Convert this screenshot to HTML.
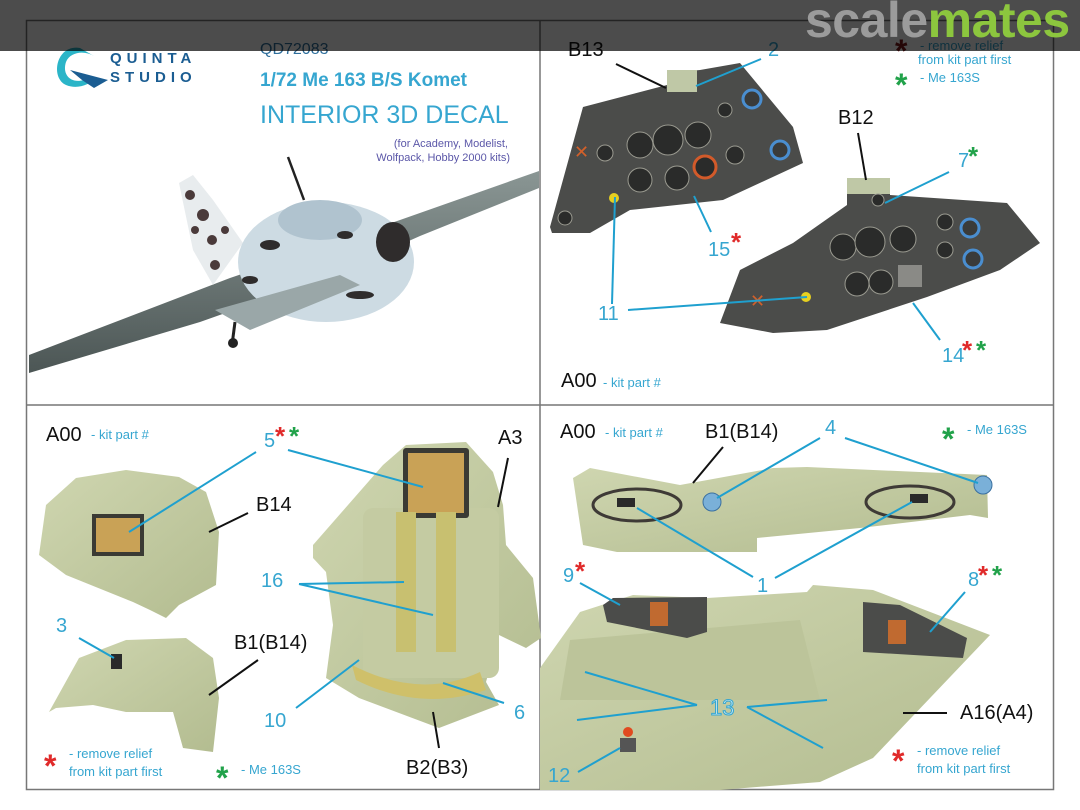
<!DOCTYPE html>
<html><head><meta charset="utf-8"><style>
html,body{margin:0;padding:0;background:#fff;}
svg{display:block;font-family:"Liberation Sans",Arial,sans-serif;}
</style></head><body>
<svg width="1080" height="810" viewBox="0 0 1080 810" xmlns="http://www.w3.org/2000/svg">
<defs>
<linearGradient id="res" x1="0" y1="0" x2="1" y2="1"><stop offset="0" stop-color="#cfd6b0"/><stop offset="1" stop-color="#b3bc90"/></linearGradient>
<linearGradient id="wing" x1="0" y1="0" x2="0" y2="1"><stop offset="0" stop-color="#8a9694"/><stop offset="1" stop-color="#4c5655"/></linearGradient>
</defs>
<rect width="1080" height="810" fill="#fff"/>
<rect x="26.5" y="20.5" width="1027" height="769" fill="none" stroke="#777" stroke-width="1.5"/>
<line x1="540" y1="20" x2="540" y2="790" stroke="#777" stroke-width="1.5"/>
<line x1="26" y1="405" x2="1054" y2="405" stroke="#777" stroke-width="1.5"/>

<!-- TOP LEFT -->
<path d="M80 48 C56 44 50 78 66 85 C78 90 90 84 96 78 L84 80 C70 84 62 74 66 62 C70 52 84 50 94 56 Z" fill="#2bb5c8"/>
<path d="M70 70 L108 80 L94 88 L82 80 Z" fill="#1b5d92"/>
<text x="110" y="63" font-size="15" font-weight="bold" fill="#1b5d92" letter-spacing="5">QUINTA</text>
<text x="110" y="82" font-size="15" font-weight="bold" fill="#1b5d92" letter-spacing="5">STUDIO</text>
<text x="260" y="54" font-size="16" fill="#2f6f9c">QD72083</text>
<text x="260" y="86" font-size="19" font-weight="bold" fill="#36a6d0">1/72 Me 163 B/S Komet</text>
<text x="260" y="123" font-size="25" fill="#36a6d0">INTERIOR 3D DECAL</text>
<text x="508" y="147" font-size="11" fill="#5b57a8" text-anchor="end">(for Academy, Modelist,</text>
<text x="510" y="161" font-size="11" fill="#5b57a8" text-anchor="end">Wolfpack, Hobby 2000 kits)</text>
<polygon points="29,355 230,278 400,220 539,171 539,188 420,236 330,276 200,322 29,373" fill="url(#wing)"/>
<polygon points="179,183 193,175 213,200 243,243 213,285 193,250" fill="#e8ecee"/>
<g fill="#4a3a3a"><circle cx="190" cy="195" r="5"/><circle cx="203" cy="215" r="6"/><circle cx="212" cy="240" r="5"/><circle cx="225" cy="230" r="4"/><circle cx="195" cy="230" r="4"/><circle cx="215" cy="265" r="5"/></g>
<line x1="288" y1="157" x2="304" y2="200" stroke="#222" stroke-width="2.5"/>
<ellipse cx="326" cy="262" rx="88" ry="60" fill="#cddbe3"/>
<ellipse cx="320" cy="220" rx="42" ry="20" fill="#b0c3cf"/>
<g fill="#2f2c2c"><ellipse cx="393" cy="242" rx="17" ry="20"/><ellipse cx="345" cy="235" rx="8" ry="4"/><ellipse cx="270" cy="245" rx="10" ry="5"/><ellipse cx="360" cy="295" rx="14" ry="4"/><ellipse cx="250" cy="280" rx="8" ry="4"/></g>
<polygon points="215,310 340,275 360,285 250,330" fill="#9aa7a8"/>
<line x1="235" y1="322" x2="232" y2="345" stroke="#222" stroke-width="3"/><circle cx="233" cy="343" r="5" fill="#222"/>

<!-- TOP RIGHT -->
<polygon points="550,227 583,107 667,85 667,73 700,70 740,63 793,127 803,163 723,200 630,210 590,233 552,233" fill="#4b4c4a"/>
<rect x="667" y="70" width="30" height="22" fill="#bfc8a6"/>
<g fill="#2a2b2a" stroke="#9a9a90" stroke-width="1">
<circle cx="640" cy="145" r="13"/><circle cx="668" cy="140" r="15"/><circle cx="698" cy="135" r="13"/><circle cx="640" cy="180" r="12"/><circle cx="677" cy="178" r="12"/><circle cx="605" cy="153" r="8"/><circle cx="725" cy="110" r="7"/><circle cx="735" cy="155" r="9"/><circle cx="565" cy="218" r="7"/></g>
<circle cx="705" cy="167" r="11" fill="#2a2b2a" stroke="#d25a2a" stroke-width="3"/>
<circle cx="752" cy="99" r="9" fill="#3a3b3a" stroke="#4a8ed0" stroke-width="3"/>
<circle cx="780" cy="150" r="9" fill="#3a3b3a" stroke="#4a8ed0" stroke-width="3"/>
<circle cx="614" cy="198" r="5" fill="#e6d020"/>
<text x="574" y="158" font-size="18" fill="#d2602a">✕</text>

<polygon points="720,323 740,270 793,243 847,205 847,180 890,178 890,195 1007,203 1040,243 1000,270 927,297 827,330 773,333" fill="#4b4c4a"/>
<rect x="847" y="178" width="43" height="16" fill="#bfc8a6"/>
<g fill="#2a2b2a" stroke="#9a9a90" stroke-width="1">
<circle cx="843" cy="247" r="13"/><circle cx="870" cy="242" r="15"/><circle cx="903" cy="239" r="13"/><circle cx="857" cy="284" r="12"/><circle cx="881" cy="282" r="12"/><circle cx="945" cy="222" r="8"/><circle cx="945" cy="250" r="8"/><circle cx="878" cy="200" r="6"/></g>
<rect x="898" y="265" width="24" height="22" fill="#8a8a86"/>
<circle cx="970" cy="228" r="9" fill="#3a3b3a" stroke="#4a8ed0" stroke-width="3"/>
<circle cx="973" cy="259" r="9" fill="#3a3b3a" stroke="#4a8ed0" stroke-width="3"/>
<circle cx="806" cy="297" r="5" fill="#e6d020"/>
<text x="750" y="307" font-size="18" fill="#d2602a">✕</text>

<g font-size="20" fill="#111">
<text x="568" y="56">B13</text><text x="838" y="124">B12</text><text x="561" y="387">A00</text></g>
<g font-size="20" fill="#36a6d0">
<text x="768" y="56">2</text><text x="958" y="167">7</text><text x="708" y="256">15</text><text x="598" y="320">11</text><text x="942" y="362">14</text></g>
<text x="603" y="387" font-size="13" fill="#36a6d0">- kit part #</text>
<g font-size="26" font-weight="bold">
<text x="968" y="165" fill="#21a24a">*</text>
<text x="731" y="251" fill="#e02a2a">*</text>
<text x="962" y="359" fill="#e02a2a">*</text><text x="976" y="359" fill="#21a24a">*</text></g>
<text x="895" y="62" font-size="32" font-weight="bold" fill="#7a1a1a">*</text>
<text x="920" y="50" font-size="13" fill="#36a6d0">- remove relief</text>
<text x="918" y="64" font-size="13" fill="#36a6d0">from kit part first</text>
<text x="895" y="96" font-size="32" font-weight="bold" fill="#21a24a">*</text>
<text x="920" y="82" font-size="13" fill="#36a6d0">- Me 163S</text>
<g stroke-width="2">
<line x1="616" y1="64" x2="666" y2="88" stroke="#111"/>
<line x1="858" y1="133" x2="866" y2="180" stroke="#111"/>
<g stroke="#1fa0cf"><line x1="761" y1="59" x2="696" y2="86"/><line x1="949" y1="172" x2="885" y2="203"/><line x1="711" y1="232" x2="694" y2="196"/><line x1="612" y1="304" x2="615" y2="197"/><line x1="628" y1="310" x2="807" y2="297"/><line x1="940" y1="340" x2="913" y2="303"/></g></g>

<!-- BOTTOM LEFT -->
<polygon points="39,555 46,505 76,478 126,470 179,477 206,492 219,532 216,585 179,605 166,618 150,610 133,602 66,575" fill="url(#res)"/>
<rect x="92" y="514" width="52" height="42" fill="#3a3a34"/><rect x="96" y="518" width="44" height="34" fill="#c9a256"/>
<polygon points="49,712 79,658 126,640 186,638 213,658 219,698 213,752 183,748 173,712 126,712 93,705 56,708" fill="url(#res)"/>
<rect x="111" y="654" width="11" height="15" fill="#2a2a2a"/>
<polygon points="313,545 383,465 406,445 466,442 493,472 503,505 506,545 533,578 541,638 526,648 499,635 486,682 499,705 439,728 359,698 326,678 333,625 326,572 313,558" fill="url(#res)"/>
<rect x="363" y="508" width="136" height="170" rx="10" fill="#c4cba2"/>
<rect x="403" y="448" width="66" height="70" rx="3" fill="#3a3a34"/><rect x="408" y="453" width="56" height="60" fill="#c9a256"/>
<rect x="396" y="512" width="20" height="140" fill="#c8c070"/><rect x="436" y="512" width="20" height="140" fill="#c8c070"/>
<path d="M352 665 Q420 700 480 672 L486 690 Q420 712 356 680 Z" fill="#cfc06a"/>
<g font-size="20" fill="#111"><text x="46" y="441">A00</text><text x="256" y="511">B14</text><text x="234" y="649">B1(B14)</text><text x="406" y="774">B2(B3)</text><text x="498" y="444">A3</text></g>
<text x="91" y="439" font-size="13" fill="#36a6d0">- kit part #</text>
<g font-size="20" fill="#36a6d0"><text x="264" y="447">5</text><text x="261" y="587">16</text><text x="56" y="632">3</text><text x="264" y="727">10</text><text x="514" y="719">6</text></g>
<text x="275" y="445" font-size="26" font-weight="bold" fill="#e02a2a">*</text><text x="289" y="445" font-size="26" font-weight="bold" fill="#21a24a">*</text>
<text x="44" y="777" font-size="32" font-weight="bold" fill="#e02a2a">*</text>
<text x="69" y="758" font-size="13" fill="#36a6d0">- remove relief</text>
<text x="69" y="776" font-size="13" fill="#36a6d0">from kit part first</text>
<text x="216" y="789" font-size="32" font-weight="bold" fill="#21a24a">*</text>
<text x="241" y="774" font-size="13" fill="#36a6d0">- Me 163S</text>
<g stroke-width="2"><g stroke="#111"><line x1="248" y1="513" x2="209" y2="532"/><line x1="508" y1="458" x2="498" y2="507"/><line x1="258" y1="660" x2="209" y2="695"/><line x1="439" y1="748" x2="433" y2="712"/></g>
<g stroke="#1fa0cf"><line x1="256" y1="452" x2="129" y2="532"/><line x1="288" y1="450" x2="423" y2="487"/><line x1="299" y1="584" x2="404" y2="582"/><line x1="299" y1="584" x2="433" y2="615"/><line x1="79" y1="638" x2="114" y2="658"/><line x1="296" y1="708" x2="359" y2="660"/><line x1="504" y1="703" x2="443" y2="683"/></g></g>

<!-- BOTTOM RIGHT -->
<polygon points="573,478 590,468 680,485 773,468 807,467 987,475 988,518 970,515 860,528 757,538 757,552 617,552 583,545" fill="url(#res)"/>
<g fill="none" stroke="#3e3a36" stroke-width="3"><ellipse cx="637" cy="505" rx="44" ry="16"/><ellipse cx="910" cy="502" rx="44" ry="16"/></g>
<rect x="617" y="498" width="18" height="9" fill="#2a2a2a"/><rect x="910" y="494" width="18" height="9" fill="#2a2a2a"/>
<circle cx="712" cy="502" r="9" fill="#7ab0d8" stroke="#3a70a0"/><circle cx="983" cy="485" r="9" fill="#7ab0d8" stroke="#3a70a0"/>
<polygon points="540,668 580,612 633,595 707,598 807,592 813,585 873,590 990,635 873,758 820,782 720,790 540,790" fill="url(#res)"/>
<polygon points="570,640 800,620 820,700 560,700" fill="#bcc49a"/>
<polygon points="603,605 613,598 707,597 707,632 687,638 607,622" fill="#4b4c4a"/>
<polygon points="863,602 900,605 967,638 963,658 863,652" fill="#4b4c4a"/>
<g fill="#c06a30"><rect x="650" y="602" width="18" height="24"/><rect x="888" y="620" width="18" height="24"/></g>
<circle cx="628" cy="732" r="5" fill="#e04a20"/><rect x="620" y="738" width="16" height="14" fill="#555"/>
<g font-size="20" fill="#111"><text x="560" y="438">A00</text><text x="705" y="438">B1(B14)</text><text x="960" y="719">A16(A4)</text></g>
<text x="605" y="437" font-size="13" fill="#36a6d0">- kit part #</text>
<g font-size="20" fill="#36a6d0"><text x="825" y="434">4</text><text x="563" y="582">9</text><text x="757" y="592">1</text><text x="968" y="586">8</text><text x="548" y="782">12</text></g>
<text x="710" y="715" font-size="22" fill="#bfe4f0" stroke="#36a6d0" stroke-width="1">13</text>
<text x="575" y="580" font-size="26" font-weight="bold" fill="#e02a2a">*</text>
<text x="978" y="584" font-size="26" font-weight="bold" fill="#e02a2a">*</text><text x="992" y="584" font-size="26" font-weight="bold" fill="#21a24a">*</text>
<text x="942" y="450" font-size="32" font-weight="bold" fill="#21a24a">*</text>
<text x="967" y="434" font-size="13" fill="#36a6d0">- Me 163S</text>
<text x="892" y="772" font-size="32" font-weight="bold" fill="#e02a2a">*</text>
<text x="917" y="755" font-size="13" fill="#36a6d0">- remove relief</text>
<text x="917" y="773" font-size="13" fill="#36a6d0">from kit part first</text>
<g stroke-width="2"><g stroke="#111"><line x1="723" y1="447" x2="693" y2="483"/><line x1="903" y1="713" x2="947" y2="713"/></g>
<g stroke="#1fa0cf"><line x1="820" y1="438" x2="717" y2="498"/><line x1="845" y1="438" x2="978" y2="483"/><line x1="753" y1="577" x2="637" y2="508"/><line x1="775" y1="578" x2="912" y2="502"/><line x1="580" y1="583" x2="620" y2="605"/><line x1="965" y1="592" x2="930" y2="632"/><line x1="697" y1="705" x2="585" y2="672"/><line x1="697" y1="705" x2="577" y2="720"/><line x1="747" y1="707" x2="827" y2="700"/><line x1="747" y1="707" x2="823" y2="748"/><line x1="578" y1="772" x2="620" y2="748"/></g></g>

<rect x="0" y="0" width="1080" height="51" fill="#000" fill-opacity="0.7"/>
<text x="805" y="37" font-size="50" font-weight="bold" letter-spacing="-0.5"><tspan fill="#9b9b9b">scale</tspan><tspan fill="#8cc63e">mates</tspan></text>
</svg>
</body></html>
